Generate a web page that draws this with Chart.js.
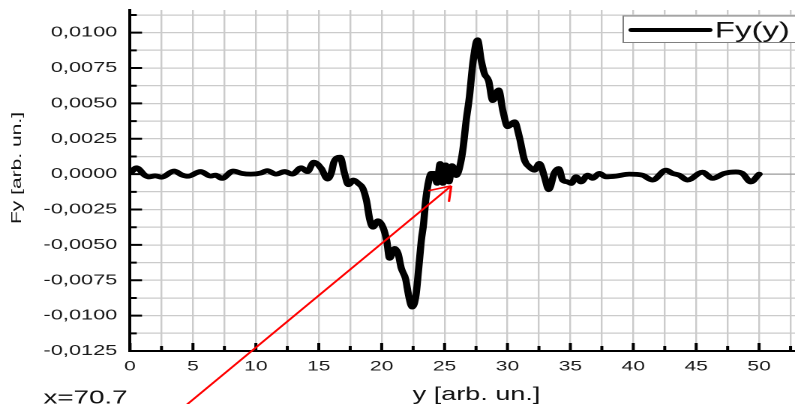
<!DOCTYPE html>
<html>
<head>
<meta charset="utf-8">
<title>Fy(y)</title>
<script src="https://cdn.jsdelivr.net/npm/chart.js@4.4.0/dist/chart.umd.min.js"></script>
<style>
  html, body { margin: 0; padding: 0; background: #fff; overflow: hidden; }
  /* the plot uses wide lettering, so the whole canvas is stretched sideways */
  #wrap { width: 548px; height: 404px; transform: scaleX(1.5); transform-origin: 0 0; }
</style>
</head>
<body>
<div id="wrap"><canvas id="forceChart" width="548" height="404"></canvas></div>
<script>
// Fy along y
const posY = [
  0.1, 0.5, 1.2, 1.5, 2.0, 2.5, 3.5, 4.1, 4.6, 5.6, 6.4, 6.8, 7.3, 8.2, 8.9, 9.6,
  10.4, 10.9, 11.6, 12.3, 12.9, 13.6, 14.1, 14.6, 15.2, 15.7, 16.0, 16.2, 16.7, 17.05, 17.35, 17.75,
  18.15, 18.5, 18.8, 19.05, 19.3, 19.7, 20.1, 20.4, 20.63, 21.03, 21.3, 21.56, 21.9, 22.17, 22.42, 22.72,
  22.95, 23.15, 23.33, 23.5, 23.68, 23.94, 24.2, 24.4, 24.65, 24.87, 25.08, 25.34, 25.6, 25.93, 26.2, 26.45,
  26.72, 26.98, 27.25, 27.62, 27.9, 28.17, 28.5, 28.83, 29.3, 29.63, 30.02, 30.56, 30.95, 31.35, 31.75, 32.14,
  32.54, 32.94, 33.28, 33.73, 34.07, 34.39, 34.79, 35.06, 35.45, 35.85, 36.37, 36.77, 37.3, 37.83, 38.63, 39.68,
  40.71, 41.53, 42.6, 43.12, 43.65, 44.31, 45.5, 46.29, 47.22, 48.15, 48.67, 49.34, 50.0
];
const forceFy = [
  0.00015, 0.00045, -0.0001, -0.0002, -0.00012, -0.00022, 0.00022, -0.00005, -0.00015, 0.00018, -0.00014, -0.00007, -0.0003, 0.00022, 0.00005, 0.0,
  0.00008, 0.00025, 0.0, 0.00018, 0.0, 0.00045, 0.00018, 0.00085, 0.0004, -0.00035, 0.0001, 0.00085, 0.0012, 0.00005, -0.00075, -0.00042,
  -0.00066, -0.001, -0.0019, -0.0032, -0.00375, -0.0033, -0.00375, -0.0047, -0.00595, -0.00525, -0.0056, -0.00665, -0.0074, -0.0087, -0.0094, -0.0086,
  -0.0066, -0.0047, -0.0035, -0.00185, -0.00075, 0.00005, 0.00005, -0.00065, 0.00075, -0.00065, 0.00065, -0.00055, 0.0006, -0.0001, 0.0005, 0.0017,
  0.0038, 0.0055, 0.00785, 0.0095, 0.0081, 0.0071, 0.0066, 0.0052, 0.00595, 0.0045, 0.00335, 0.0037, 0.0026, 0.001, 0.0005, 0.00028,
  0.00076, -0.00019, -0.0011, 0.0001, 0.0004, -0.00042, -0.00055, -0.00066, -0.00019, -0.00055, -0.00007, -0.0003, 0.00005, -0.00019, -0.00014, 0.0,
  -0.00007, -0.00042, 0.00028, 0.00005, -0.00007, -0.00042, 0.00014, -0.0003, 0.00005, 0.00016, 0.00005, -0.00055, 0.0
];

const xMajorTicks = [0, 5, 10, 15, 20, 25, 30, 35, 40, 45, 50];
const yMajorTicks = [-0.0125, -0.01, -0.0075, -0.005, -0.0025, 0, 0.0025, 0.005, 0.0075, 0.01];

const seriesLabel = 'Fy(y)';
const xTitle = 'y [arb. un.]';
const yTitle = 'Fy [arb. un.]';
const noteText = 'x=70.7';

// minor ticks sit halfway between the labelled ones
const xTicks = [];
xMajorTicks.forEach(v => { xTicks.push(v, v + 2.5); });
xTicks.push(55);
const yTicks = [];
yMajorTicks.forEach(v => { yTicks.push(v, +(v + 0.00125).toFixed(5)); });

const isMajor = (list, v) => list.some(t => Math.abs(t - v) < 1e-9);

const FONT = "'Liberation Sans', Arial, sans-serif";
const STRETCH = 1.5;

const decor = {
  id: 'decor',
  afterDraw(chart) {
    const { ctx, chartArea, scales: { x, y } } = chart;
    ctx.save();

    // inward tick marks
    ctx.strokeStyle = '#000';
    ctx.lineWidth = 2;
    ctx.beginPath();
    x.ticks.forEach(t => {
      const px = x.getPixelForValue(t.value);
      const len = isMajor(xMajorTicks, t.value) ? 8 : 5;
      ctx.moveTo(px, chartArea.bottom);
      ctx.lineTo(px, chartArea.bottom - len);
    });
    y.ticks.forEach(t => {
      const py = y.getPixelForValue(t.value);
      const len = isMajor(yMajorTicks, t.value) ? 8 : 4.5;
      ctx.moveTo(chartArea.left, py);
      ctx.lineTo(chartArea.left + len, py);
    });
    ctx.stroke();

    // legend box
    ctx.fillStyle = '#fff';
    ctx.fillRect(415.5, 16, 140, 26.5);
    ctx.strokeStyle = '#808080';
    ctx.lineWidth = 1;
    ctx.strokeRect(415.5, 16, 140, 26.5);
    ctx.strokeStyle = '#000';
    ctx.lineWidth = 4;
    ctx.lineCap = 'round';
    ctx.beginPath();
    ctx.moveTo(421, 30);
    ctx.lineTo(473, 30);
    ctx.stroke();
    ctx.fillStyle = '#111';
    ctx.font = '22px ' + FONT;
    ctx.textAlign = 'left';
    ctx.textBaseline = 'alphabetic';
    ctx.fillText(seriesLabel, 476.5, 37.5);

    // axis titles and note
    ctx.font = '18px ' + FONT;
    ctx.textAlign = 'center';
    ctx.fillText(xTitle, 317.7, 400);
    ctx.textAlign = 'left';
    ctx.font = '18.5px ' + FONT;
    ctx.fillText(noteText, 29, 403.3);

    // vertical title: undo the sideways stretch across the glyphs, keep it along the text
    ctx.save();
    ctx.translate(11.3, 168);
    ctx.scale(1 / STRETCH, 1);
    ctx.rotate(-Math.PI / 2);
    ctx.scale(STRETCH, 1);
    ctx.font = '14px ' + FONT;
    ctx.textAlign = 'center';
    ctx.textBaseline = 'middle';
    ctx.fillText(yTitle, 0, 0);
    ctx.restore();

    // red arrow pointing at the central zero crossing
    const x0 = x.getPixelForValue(4.5), y0 = y.getPixelForValue(-0.0163);
    const x1 = x.getPixelForValue(25.53), y1 = y.getPixelForValue(-0.00083);
    ctx.strokeStyle = '#ff0000';
    ctx.lineWidth = 1.6;
    ctx.lineCap = 'butt';
    ctx.beginPath();
    ctx.moveTo(x0, y0);
    ctx.lineTo(x1, y1);
    const back = Math.atan2(y0 - y1, x0 - x1);
    [-0.58, 0.58].forEach(da => {
      ctx.moveTo(x1, y1);
      ctx.lineTo(x1 + 16 * Math.cos(back + da), y1 + 16 * Math.sin(back + da));
    });
    ctx.stroke();

    ctx.restore();
  }
};

// label overhang padding is not wanted: the plot box is pinned by afterFit
const pinX = (scale) => { scale.height = 53; scale.paddingLeft = 0; scale.paddingRight = 0; };
const pinY = (scale) => { scale.width = 86.7; scale.paddingTop = 0; scale.paddingBottom = 0; };

new Chart(document.getElementById('forceChart'), {
  type: 'scatter',
  data: {
    datasets: [{
      label: seriesLabel,
      data: posY.map((v, i) => ({ x: v, y: forceFy[i] })),
      showLine: true,
      borderColor: '#000',
      borderWidth: 4.8,
      borderJoinStyle: 'round',
      borderCapStyle: 'round',
      pointRadius: 0,
      cubicInterpolationMode: 'monotone'
    }]
  },
  options: {
    responsive: false,
    devicePixelRatio: 2,
    animation: false,
    layout: { padding: { top: 10, left: 0, right: 0, bottom: 0 } },
    plugins: { legend: { display: false }, tooltip: { enabled: false } },
    scales: {
      x: {
        type: 'linear',
        min: 0,
        max: 55,
        afterBuildTicks: (scale) => { scale.ticks = xTicks.map(v => ({ value: v })); },
        afterFit: pinX,
        grid: { color: '#cbcbcb', lineWidth: 1.2, drawTicks: false },
        border: { color: '#000', width: 2 },
        ticks: {
          autoSkip: false,
          maxRotation: 0,
          padding: 7,
          color: '#1a1a1a',
          font: { family: FONT, size: 14 },
          callback: (v) => isMajor(xMajorTicks, v) ? String(v) : ''
        }
      },
      y: {
        type: 'linear',
        min: -0.0125,
        max: 0.0116,
        afterBuildTicks: (scale) => { scale.ticks = yTicks.map(v => ({ value: v })); },
        afterFit: pinY,
        grid: {
          color: (c) => (c.tick && c.tick.value === 0) ? '#9a9a9a' : '#cbcbcb',
          lineWidth: 1.2,
          drawTicks: false
        },
        border: { color: '#000', width: 2 },
        ticks: {
          autoSkip: false,
          padding: 8.5,
          color: '#1a1a1a',
          font: { family: FONT, size: 14.5 },
          callback: (v) => isMajor(yMajorTicks, v) ? v.toFixed(4).replace('.', ',') : ''
        }
      }
    }
  },
  plugins: [decor]
});
</script>
</body>
</html>
